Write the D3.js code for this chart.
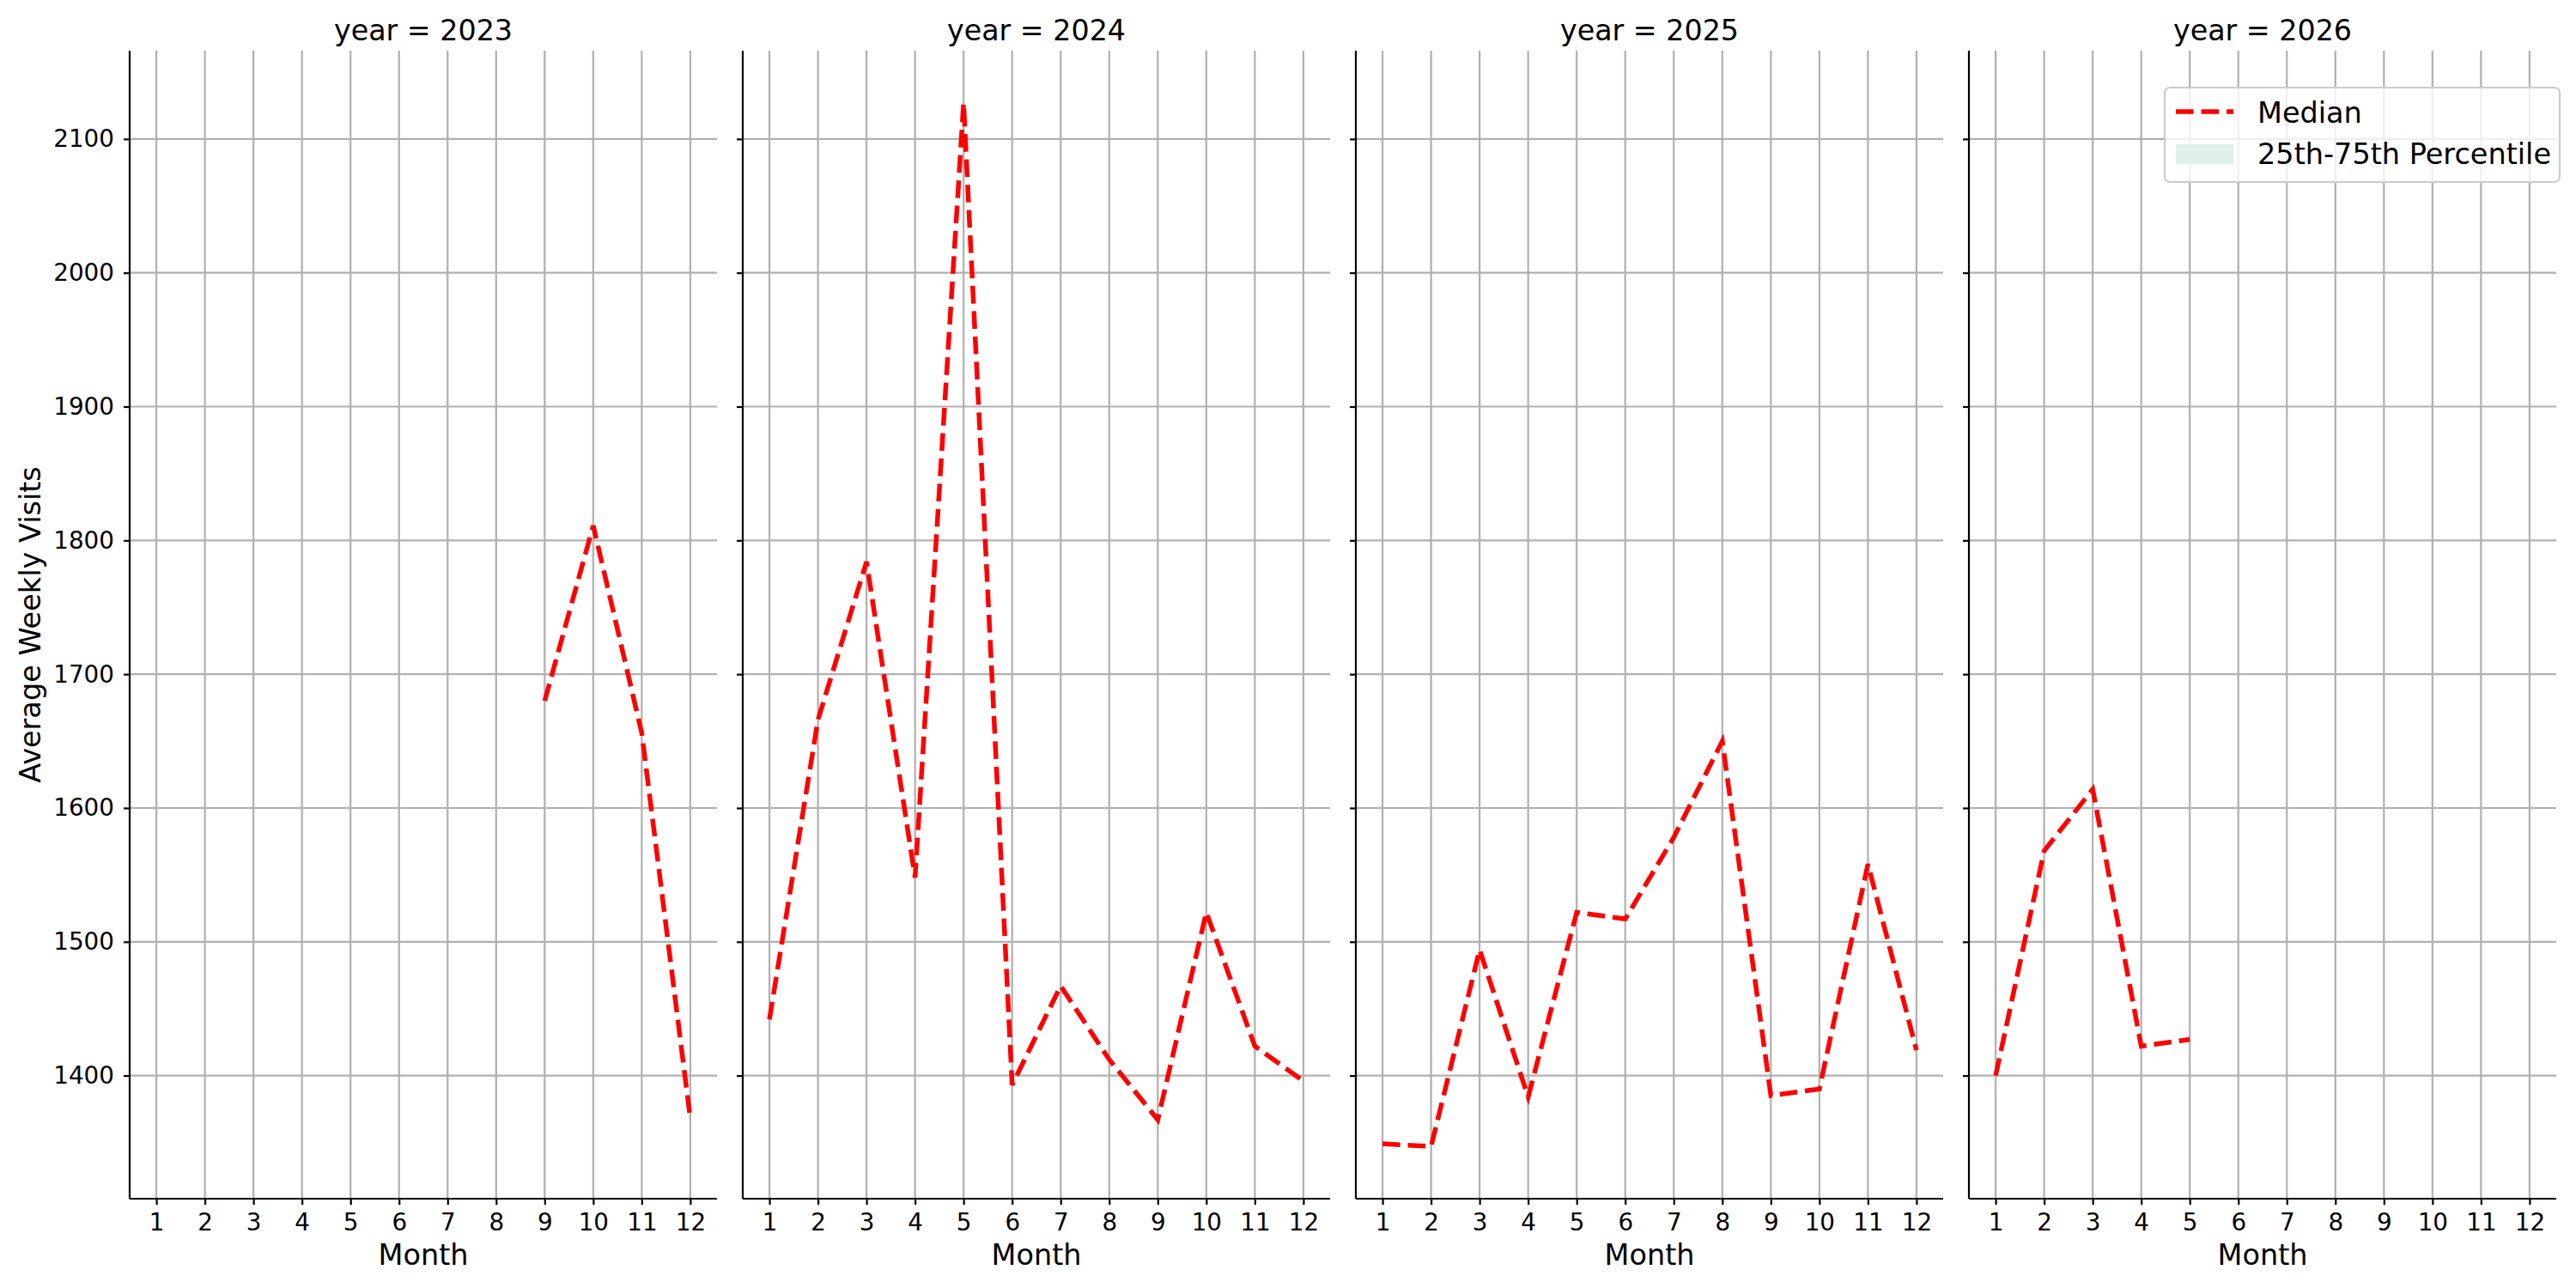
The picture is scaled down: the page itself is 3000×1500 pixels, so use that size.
<!DOCTYPE html>
<html lang="en">
<head>
<meta charset="UTF-8">
<title>Average Weekly Visits by Month</title>
<script src="https://d3js.org/d3.v7.min.js"></script>
<style>
    body { margin: 0; background: #fff; }
    svg { display: block; font-family: "DejaVu Sans", sans-serif; }
    svg text { font-family: "DejaVu Sans", sans-serif; }
    .tick text { fill: #000; }
</style>
</head>
<body>
<div id="chart"></div>
<script>
    // data (null = no data for that month)
    const months = [1, 2, 3, 4, 5, 6, 7, 8, 9, 10, 11, 12];
    const years = [2023, 2024, 2025, 2026];
    const median2023 = [null, null, null, null, null, null, null, null, 1680, 1811, 1656, 1368];
    const median2024 = [1442, 1666, 1784, 1548, 2127, 1393, 1467, 1412, 1367, 1522, 1422, 1396];
    const median2025 = [1349, 1347, 1494, 1384, 1522, 1517, 1578, 1650, 1385, 1390, 1558, 1419];
    const median2026 = [1400, 1568, 1614, 1422, 1427, null, null, null, null, null, null, null];
    const medians = [median2023, median2024, median2025, median2026];
    const yTicks = [1400, 1500, 1600, 1700, 1800, 1900, 2000, 2100];

    const width = 3000, height = 1500;
    const panelLeft = [151, 865, 1579, 2293];
    const panelW = 684;
    const plotTop = 59, plotBottom = 1396;

    const svg = d3.select("#chart").append("svg")
        .attr("width", width)
        .attr("height", height);

    // shared y scale, matplotlib style 5% margins
    const all = medians.flat().filter(v => v != null);
    const lo = d3.min(all), hi = d3.max(all), pad = (hi - lo) * 0.05;
    const y = d3.scaleLinear().domain([lo - pad, hi + pad]).range([plotBottom, plotTop]);

    years.forEach((year, i) => {
        const x0 = panelLeft[i];
        const x = d3.scaleLinear().domain([0.45, 12.55]).range([x0, x0 + panelW]);
        const g = svg.append("g");

        // grid
        g.selectAll(".vgrid").data(months).enter().append("line")
            .attr("x1", d => x(d)).attr("x2", d => x(d))
            .attr("y1", plotTop).attr("y2", plotBottom)
            .attr("stroke", "#b0b0b0").attr("stroke-width", 2.2);
        g.selectAll(".hgrid").data(yTicks).enter().append("line")
            .attr("x1", x0).attr("x2", x0 + panelW)
            .attr("y1", d => y(d)).attr("y2", d => y(d))
            .attr("stroke", "#b0b0b0").attr("stroke-width", 2.2);

        // median line
        const data = months.map((m, k) => ({ m: m, v: medians[i][k] }));
        const line = d3.line()
            .defined(d => d.v != null)
            .x(d => x(d.m))
            .y(d => y(d.v));
        g.append("path")
            .datum(data)
            .attr("d", line)
            .attr("fill", "none")
            .attr("stroke", "red")
            .attr("stroke-width", 5.5)
            .attr("stroke-dasharray", "20.6,8.9");

        // axes
        const xAxis = d3.axisBottom(x).tickValues(months).tickSize(7).tickPadding(10).tickSizeOuter(0);
        const gx = g.append("g").attr("transform", `translate(0,${plotBottom})`).call(xAxis)
            .attr("font-family", null).attr("font-size", null);
        gx.select(".domain").attr("stroke", "#000").attr("stroke-width", 2.2)
            .attr("d", `M${x0},0H${x0 + panelW}`);
        gx.selectAll(".tick line").attr("stroke", "#000").attr("stroke-width", 2.2);
        gx.selectAll("text").style("font-size", "27.8px");

        const yAxis = d3.axisLeft(y).tickValues(yTicks).tickSize(7).tickPadding(11).tickSizeOuter(0)
            .tickFormat(i === 0 ? d3.format("d") : () => "");
        const gy = g.append("g").attr("transform", `translate(${x0},0)`).call(yAxis)
            .attr("font-family", null).attr("font-size", null);
        gy.select(".domain").attr("stroke", "#000").attr("stroke-width", 2.2)
            .attr("d", `M0,${plotTop}V${plotBottom}`);
        gy.selectAll(".tick line").attr("stroke", "#000").attr("stroke-width", 2.2);
        gy.selectAll("text").style("font-size", "27.8px");

        // title and x label
        g.append("text")
            .attr("x", x0 + panelW / 2).attr("y", 47)
            .attr("text-anchor", "middle")
            .style("font-size", "33.3px")
            .text(`year = ${year}`);
        g.append("text")
            .attr("x", x0 + panelW / 2).attr("y", 1473)
            .attr("text-anchor", "middle")
            .style("font-size", "33.5px")
            .text("Month");
    });

    // y label
    svg.append("text")
        .attr("transform", `translate(47,${(plotTop + plotBottom) / 2}) rotate(-90)`)
        .attr("text-anchor", "middle")
        .style("font-size", "33.5px")
        .text("Average Weekly Visits");

    // legend
    const lg = svg.append("g");
    lg.append("rect")
        .attr("x", 2521).attr("y", 102).attr("width", 460).attr("height", 110)
        .attr("rx", 6)
        .attr("fill", "#fff").attr("fill-opacity", 0.8)
        .attr("stroke", "#cccccc").attr("stroke-width", 2.2);
    lg.append("line")
        .attr("x1", 2534).attr("x2", 2601).attr("y1", 130).attr("y2", 130)
        .attr("stroke", "red").attr("stroke-width", 5.5)
        .attr("stroke-dasharray", "20.6,8.9");
    lg.append("text")
        .attr("x", 2629).attr("y", 143)
        .style("font-size", "33.5px")
        .text("Median");
    lg.append("rect")
        .attr("x", 2534).attr("y", 168).attr("width", 67).attr("height", 23)
        .attr("fill", "#dff0eb");
    lg.append("text")
        .attr("x", 2629).attr("y", 191)
        .style("font-size", "33.5px")
        .text("25th-75th Percentile");
</script>
</body>
</html>
